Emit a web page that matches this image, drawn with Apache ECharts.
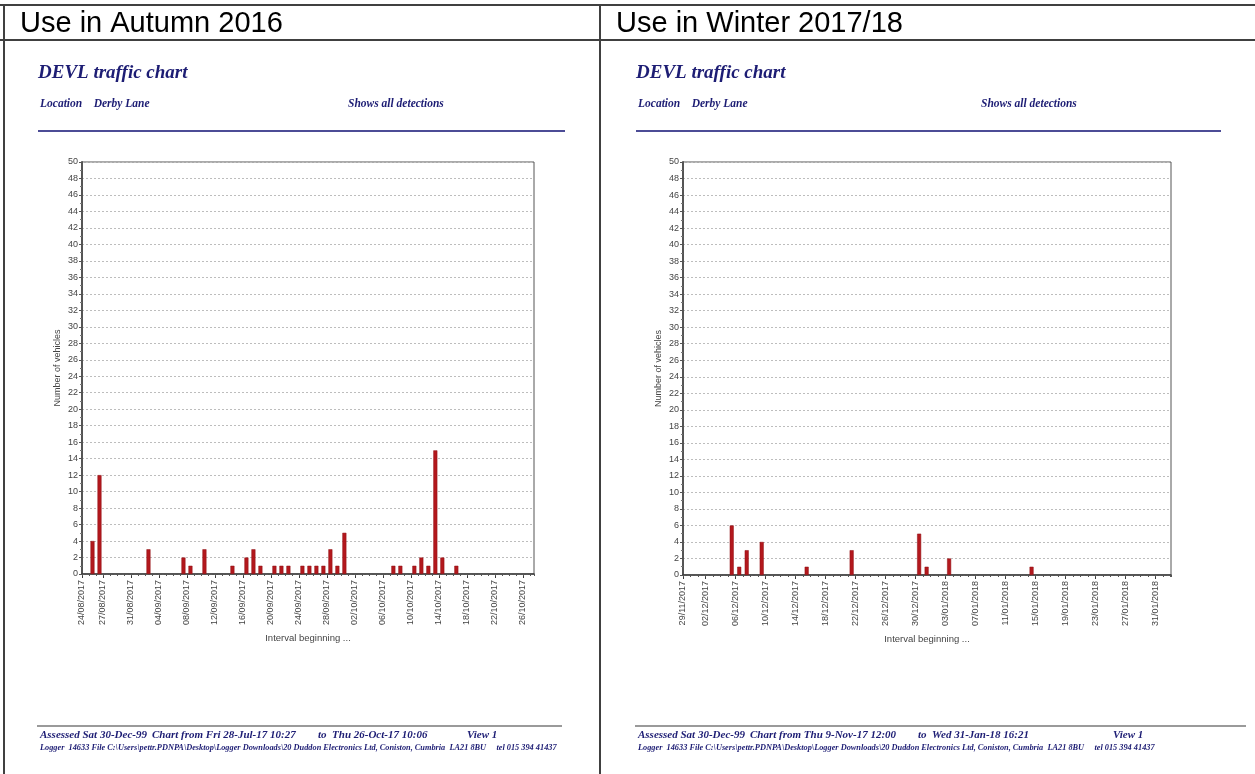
<!DOCTYPE html>
<html>
<head>
<meta charset="utf-8">
<script src="https://cdn.jsdelivr.net/npm/echarts@6/dist/echarts.min.js"></script>
<style>
html,body{margin:0;padding:0;background:#fff;}
#c{width:1255px;height:774px;}
</style>
</head>
<body>
<div id="c"></div>
<script>
// ---- Data ----
const panelHeaders = ['Use in Autumn 2016', 'Use in Winter 2017/18'];

const autumnStart = '24/08/2017';
const autumnDates = ['25/08/2017','26/08/2017','02/09/2017','07/09/2017','08/09/2017','10/09/2017','14/09/2017',
  '16/09/2017','17/09/2017','18/09/2017','20/09/2017','21/09/2017','22/09/2017','24/09/2017','25/09/2017',
  '26/09/2017','27/09/2017','28/09/2017','29/09/2017','30/09/2017','07/10/2017','08/10/2017','10/10/2017',
  '11/10/2017','12/10/2017','13/10/2017','14/10/2017','16/10/2017'];
const autumnCounts = [4,12,3,2,1,3,1,2,3,1,1,1,1,1,1,1,1,3,1,5,1,1,1,2,1,15,2,1];
const autumnTicks = ['24/08/2017','27/08/2017','31/08/2017','04/09/2017','08/09/2017','12/09/2017','16/09/2017',
  '20/09/2017','24/09/2017','28/09/2017','02/10/2017','06/10/2017','10/10/2017','14/10/2017','18/10/2017',
  '22/10/2017','26/10/2017'];

const winterStart = '29/11/2017';
const winterDates = ['05/12/2017','06/12/2017','07/12/2017','09/12/2017','15/12/2017','21/12/2017',
  '30/12/2017','31/12/2017','03/01/2018','14/01/2018'];
const winterCounts = [6,1,3,4,1,3,5,1,2,1];
const winterTicks = ['29/11/2017','02/12/2017','06/12/2017','10/12/2017','14/12/2017','18/12/2017','22/12/2017',
  '26/12/2017','30/12/2017','03/01/2018','07/01/2018','11/01/2018','15/01/2018','19/01/2018','23/01/2018',
  '27/01/2018','31/01/2018'];

const yTicksMax = 50;
const footerAutumn = ['Assessed Sat 30-Dec-99', 'Chart from Fri 28-Jul-17 10:27', 'to  Thu 26-Oct-17 10:06', 'View 1'];
const footerWinter = ['Assessed Sat 30-Dec-99', 'Chart from Thu 9-Nov-17 12:00', 'to  Wed 31-Jan-18 16:21', 'View 1'];
const loggerLine = 'Logger  14633 File C:\\Users\\pettr.PDNPA\\Desktop\\Logger Downloads\\20 Duddon Electronics Ltd, Coniston, Cumbria  LA21 8BU     tel 015 394 41437';

// ---- helpers ----
function dayIndex(s, start) {
  const p = s.split('/'), q = start.split('/');
  const a = Date.UTC(+p[2], +p[1]-1, +p[0]);
  const b = Date.UTC(+q[2], +q[1]-1, +q[0]);
  return Math.round((a - b) / 86400000);
}

const NAVY = '#1d1d74';
const SERIF = '"Liberation Serif","DejaVu Serif",serif';
const SANS = '"Liberation Sans",Arial,sans-serif';

function panel(k, start, dates, counts, ticks, span) {
  const tickIdx = ticks.map(t => dayIndex(t, start));
  const lab = {};
  ticks.forEach((t, i) => lab[tickIdx[i]] = t);
  const xa = {
    type: 'value', gridIndex: k, min: 0, max: span,
    axisLine: {show: true, onZero: false, lineStyle: {color: '#3a3a3a', width: 1.5}},
    axisTick: {show: true, length: 4, lineStyle: {color: '#3a3a3a'}, customValues: tickIdx},
    axisLabel: {show: true, rotate: 90, fontSize: 9, color: '#444', fontFamily: SANS, margin: 6,
      customValues: tickIdx, formatter: v => lab[Math.round(v)] || ''},
    splitLine: {show: false},
    name: 'Interval beginning ...', nameLocation: 'middle', nameGap: 57,
    nameTextStyle: {fontSize: 9.5, color: '#444', fontFamily: SANS}
  };
  const xa2 = {
    type: 'value', gridIndex: k, min: 0, max: span, interval: 1, position: 'bottom',
    axisLine: {show: false}, axisLabel: {show: false}, splitLine: {show: false},
    axisTick: {show: true, length: 2, lineStyle: {color: '#555'}}
  };
  const ya = {
    type: 'value', gridIndex: k, min: 0, max: yTicksMax, interval: 2,
    axisLine: {show: true, lineStyle: {color: '#555', width: 2}},
    axisTick: {show: true, length: 3, lineStyle: {color: '#555'}},
    minorTick: {show: true, splitNumber: 2, length: 2, lineStyle: {color: '#777'}},
    axisLabel: {fontSize: 9, color: '#444', fontFamily: SANS, margin: 4},
    splitLine: {show: true, lineStyle: {color: '#bdbdbd', type: [2, 2], width: 1}},
    name: 'Number of vehicles', nameLocation: 'middle', nameGap: 20, nameRotate: 90,
    nameTextStyle: {fontSize: 9, color: '#444', fontFamily: SANS}
  };
  const data = dates.map((d, i) => [dayIndex(d, start) + 0.5, counts[i]]);
  const s = {
    type: 'bar', xAxisIndex: 2*k, yAxisIndex: k, data: data, barWidth: 4,
    itemStyle: {color: '#b3181d', borderColor: '#8e1014', borderWidth: 0.5}, silent: true
  };
  return {xa, xa2, ya, s};
}

const P0 = panel(0, autumnStart, autumnDates, autumnCounts, autumnTicks, 64.6);
const P1 = panel(1, winterStart, winterDates, winterCounts, winterTicks, 65.1);

function txt(x, y, t, size, opts) {
  return {type: 'text', x: x, y: y, silent: true,
    style: Object.assign({text: t, fontSize: size, fill: NAVY, fontFamily: SERIF,
      fontStyle: 'italic', fontWeight: 'bold', textVerticalAlign: 'middle'}, opts || {})};
}
function line(x1, y1, x2, y2, color, w) {
  return {type: 'line', silent: true, shape: {x1, y1, x2, y2}, style: {stroke: color, lineWidth: w}};
}

const graphics = [];
// table borders
graphics.push(line(0, 5, 1255, 5, '#404040', 2));
graphics.push(line(0, 40, 1255, 40, '#404040', 2));
graphics.push(line(4, 5, 4, 774, '#404040', 2));
graphics.push(line(600, 5, 600, 774, '#404040', 2));
graphics.push({type: 'text', x: 20, y: 24, silent: true,
  style: {text: panelHeaders[0], fontSize: 29, fill: '#000', fontFamily: SANS, textVerticalAlign: 'middle'}});
graphics.push({type: 'text', x: 616, y: 24, silent: true,
  style: {text: panelHeaders[1], fontSize: 29, fill: '#000', fontFamily: SANS, textVerticalAlign: 'middle'}});

function chartDecor(ox, lineEnd, footLineEnd, shows, footer, fpos) {
  graphics.push(txt(ox + 38, 73, 'DEVL traffic chart', 19));
  graphics.push(txt(ox + 40, 104, 'Location    Derby Lane', 11.5));
  graphics.push(txt(shows, 104, 'Shows all detections', 11.5));
  graphics.push(line(ox + 38, 131, lineEnd, 131, '#4c4c96', 2));
  graphics.push(line(ox + 37, 726, footLineEnd, 726, '#9a9a9a', 2));
  footer.forEach((f, i) => graphics.push(txt(fpos[i], 735, f, 11)));
  graphics.push(txt(ox + 40, 748, loggerLine, 8.3));
}
chartDecor(0, 565, 562, 348, footerAutumn, [40, 152, 318, 467]);
chartDecor(598, 1221, 1246, 981, footerWinter, [638, 750, 918, 1113]);

const option = {
  animation: false,
  grid: [
    {left: 82, top: 162, width: 452, height: 412, show: true, borderColor: '#555', borderWidth: 1, containLabel: false},
    {left: 683, top: 162, width: 488, height: 413, show: true, borderColor: '#555', borderWidth: 1, containLabel: false}
  ],
  xAxis: [P0.xa, P0.xa2, P1.xa, P1.xa2],
  yAxis: [P0.ya, P1.ya],
  series: [P0.s, P1.s],
  graphic: graphics
};
option.xAxis[1].gridIndex = 0; option.xAxis[3].gridIndex = 1;

const chart = echarts.init(document.getElementById('c'), null, {renderer: 'canvas'});
chart.setOption(option);
</script>
</body>
</html>
